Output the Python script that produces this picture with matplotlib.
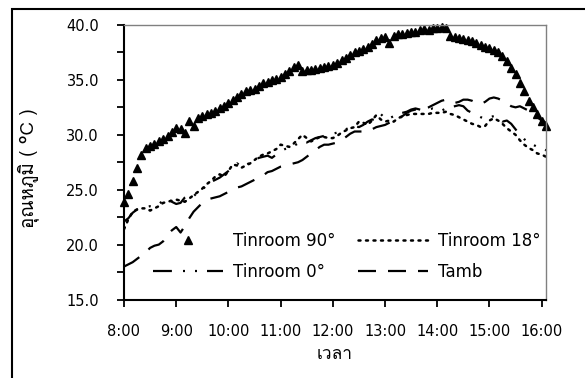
import matplotlib
matplotlib.use("Agg")
import matplotlib.pyplot as plt
import pandas as pd
from matplotlib import font_manager
from matplotlib.ft2font import FT2Font
from matplotlib.patches import Rectangle

# temperatures logged every 5 minutes from 8:00 to 16:05
tinroom_90 = [
    23.9, 24.6, 25.8, 27.0, 28.2, 28.8, 29.0, 29.2, 29.4, 29.6,
    29.9, 30.3, 30.6, 30.5, 30.2, 31.3, 30.8, 31.5, 31.7, 31.9,
    32.0, 32.2, 32.4, 32.6, 32.9, 33.2, 33.4, 33.7, 34.0, 34.1,
    34.2, 34.4, 34.7, 34.8, 35.0, 35.1, 35.3, 35.5, 35.8, 36.2,
    36.4, 35.8, 35.9, 35.9, 36.0, 36.1, 36.2, 36.3, 36.4, 36.5,
    36.8, 37.0, 37.3, 37.5, 37.6, 37.8, 38.0, 38.3, 38.6, 38.8,
    38.9, 38.4, 39.0, 39.2, 39.2, 39.3, 39.4, 39.4, 39.5, 39.6,
    39.5, 39.7, 39.7, 39.8, 39.7, 39.0, 38.9, 38.8, 38.7, 38.6,
    38.5, 38.4, 38.2, 38.0, 37.9, 37.7, 37.5, 37.2, 36.7, 36.1,
    35.5, 34.7, 34.0, 33.1, 32.5, 31.9, 31.3, 30.8,
]
tinroom_18 = [
    21.4, 22.3, 23.0, 23.2, 23.3, 23.3, 23.1, 23.3, 23.5, 23.8,
    23.9, 24.0, 24.1, 24.0, 23.9, 24.2, 24.5, 24.8, 25.1, 25.5,
    25.8, 26.2, 26.4, 26.2, 26.7, 27.3, 27.2, 27.0, 27.2, 27.4,
    27.7, 28.0, 28.2, 28.3, 28.5, 28.7, 29.1, 29.0, 28.9, 29.2,
    29.6, 30.0, 29.7, 29.4, 29.6, 29.8, 29.8, 29.7, 29.7, 29.9,
    30.2, 30.4, 30.6, 30.7, 31.2, 31.1, 30.9, 31.3, 31.8, 31.4,
    31.2, 31.3, 31.2, 31.5, 31.7, 31.8, 31.9, 31.9, 31.9, 31.9,
    31.9, 32.0, 32.0, 32.0, 32.1, 31.9, 31.8, 31.6, 31.4, 31.2,
    31.0, 30.9, 30.7, 30.8, 31.3, 31.5, 31.3, 31.0, 30.6, 30.3,
    30.0, 29.5, 29.1, 28.8, 28.6, 28.3, 28.2, 28.0,
]
tinroom_0 = [
    22.1, 22.4, 22.9, 23.2, 23.3, 23.4, 23.5, 23.5, 23.7, 24.0,
    24.2, 23.9, 23.7, 23.8, 24.3, 24.6, 24.4, 24.8, 25.0, 25.4,
    25.7, 25.9, 26.1, 26.4, 26.7, 27.0, 27.4, 27.1, 27.2, 27.5,
    27.7, 27.9, 28.0, 28.1, 27.9, 28.2, 28.5, 28.7, 28.8, 29.0,
    29.2, 29.4, 29.3, 29.5, 29.7, 29.8, 29.9, 30.0, 30.1, 30.2,
    30.3, 30.5, 30.7, 30.8, 30.7, 30.9, 31.2, 31.4, 31.3, 31.9,
    31.5, 31.5, 31.7, 31.9, 32.0, 32.1, 32.3, 32.4, 32.3, 32.2,
    32.3, 32.4, 32.3, 32.2, 32.4, 32.5, 32.6, 32.7, 32.6, 32.2,
    32.0, 31.8, 31.6, 31.5, 31.6, 31.7, 31.5, 31.2, 31.3, 31.0,
    30.5, 30.0, 29.6, 29.3, 29.1, 28.9, 28.7, 28.6,
]
tamb = [
    18.0, 18.2, 18.4, 18.7, 19.0, 19.3, 19.7, 19.9, 20.0, 20.3,
    20.9, 21.3, 21.6, 21.1, 21.7, 22.4, 23.0, 23.4, 23.8, 24.1,
    24.2, 24.3, 24.4, 24.6, 24.8, 25.0, 25.2, 25.3, 25.5, 25.7,
    25.9, 26.1, 26.3, 26.6, 26.7, 26.9, 27.1, 27.2, 27.3, 27.4,
    27.5, 27.7, 28.0, 28.3, 28.6, 28.9, 29.1, 29.1, 29.2, 29.3,
    29.5, 29.8, 30.1, 30.3, 30.3, 30.3, 30.3, 30.5, 30.7, 30.8,
    30.9, 31.1, 31.3, 31.4, 31.7, 32.0, 32.2, 32.3, 32.3, 32.4,
    32.5, 32.7, 32.9, 33.1, 33.2, 33.1, 32.9, 33.0, 33.2, 33.2,
    33.1, 32.9, 32.8, 33.0, 33.3, 33.4, 33.3, 33.1, 32.9, 32.6,
    32.5, 32.6, 32.4, 32.2, 31.9, 31.6, 31.3, 31.1,
]
hour_ticks = [8, 9, 10, 11, 12, 13, 14, 15, 16]
hour_labels = ["8:00", "9:00", "10:00", "11:00", "12:00", "13:00", "14:00", "15:00", "16:00"]
y_ticks = [15.0, 20.0, 25.0, 30.0, 35.0, 40.0]
y_minor = [17.5, 22.5, 27.5, 32.5, 37.5]


def find_thai_font():
    """Return the name of an installed font that has Thai glyphs, if any."""
    for f in font_manager.fontManager.ttflist:
        try:
            if 0x0E2D in FT2Font(f.fname).get_charmap():
                return f.name
        except Exception:
            continue
    return None


thai = find_thai_font()
label_family = [thai, "DejaVu Sans"] if thai else ["DejaVu Sans"]

times = pd.date_range("2020-01-01 08:00", periods=len(tamb), freq="5min")
hours = times.hour + times.minute / 60.0

fig = plt.figure(figsize=(5.85, 3.78), dpi=100)
ax = fig.add_axes([124 / 585, 1 - 299.5 / 378, 422 / 585, 274.5 / 378])

# outer border around the whole chart
fig.patches.append(Rectangle((12 / 585, -0.5), 2.0, 0.5 + 1 - 8.5 / 378,
                             transform=fig.transFigure, fill=False,
                             lw=1.5, ec="black"))

h90, = ax.plot(hours, tinroom_90, ls="none", marker="^", ms=5.8, color="black",
               clip_on=False, label="Tinroom 90°")
h18, = ax.plot(hours, tinroom_18, color="black", lw=1.8, dashes=(0.8, 2.2),
               dash_capstyle="round", label="Tinroom 18°")
h0, = ax.plot(hours, tinroom_0, color="black", lw=1.6,
              dashes=(8.5, 5, 0.9, 4.5, 0.9, 4.5), label="Tinroom 0°")
ha, = ax.plot(hours, tamb, color="black", lw=1.6, dashes=(8.1, 5.4), label="Tamb")

ax.set_xlim(8, hours[-1])
ax.set_ylim(15, 40)
ax.set_xticks(hour_ticks)
ax.set_xticklabels(hour_labels)
ax.set_yticks(y_ticks)
ax.set_yticklabels([f"{v:.1f}" for v in y_ticks])
ax.set_yticks(y_minor, minor=True)
ax.tick_params(axis="both", which="both", direction="out", length=5,
               width=1.3, color="black", labelsize=10.5, pad=13)

for side in ["left", "bottom"]:
    ax.spines[side].set_linewidth(1.5)
    ax.spines[side].set_color("black")
for side in ["top", "right"]:
    ax.spines[side].set_linewidth(1.0)
    ax.spines[side].set_color("#808080")

# two columns filled top-down: 90° / 0° on the left, 18° / Tamb on the right
ax.legend(handles=[h90, h0, h18, ha], loc="upper left",
          bbox_to_anchor=(0.0687, 0.245), ncol=2, frameon=False, fontsize=12,
          numpoints=1, handlelength=4.2, handletextpad=0.6, columnspacing=1.35,
          labelspacing=0.75, borderpad=0, borderaxespad=0)

fig.text(28 / 585, 1 - 168 / 378, "อุณหภูมิ ( °C )", rotation=90,
         ha="center", va="center", fontsize=13.5, family=label_family)
fig.text(335 / 585, 1 - 355 / 378, "เวลา", ha="center", va="center",
         fontsize=12.5, family=label_family)

fig.savefig("out.png", dpi=100)
